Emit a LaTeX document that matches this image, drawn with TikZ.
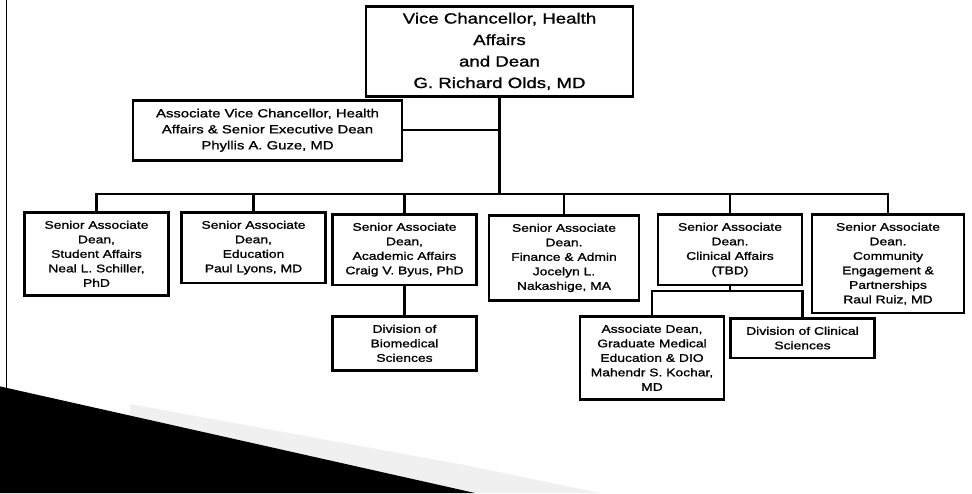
\documentclass[tikz,border=0pt]{standalone}
\usepackage{fontspec}
\setmainfont{Liberation Sans}[FakeStretch=1.26, FakeBold=1.2]
\usetikzlibrary{positioning}
\tikzstyle{every box} = []
\tikzstyle{box} = [rectangle, draw, black, line width=2.6pt, align=center,
                   inner xsep=4pt, inner ysep=8.5pt, anchor=north, every box]
\tikzset{
    chief/.style  = {box, font=\fontsize{14.8}{21.5}\selectfont, minimum width=267pt, inner ysep=6.5pt},
    deputy/.style = {box, font=\fontsize{11.8}{16}\selectfont, minimum width=269pt},
    dean/.style   = {box, font=\fontsize{11}{14.5}\selectfont, minimum width=144pt},
    link/.style   = {line width=2.2pt}
}

\begin{document}
\begin{tikzpicture}[x=1pt,y=-1pt]
    \useasboundingbox (0,0) rectangle (972,493);
    % slide edge and corner swoosh
    \draw[line width=1.5pt] (6.5,0) -- (6.5,392);
    \fill[gray!12] (130,404) -- (470,466) -- (600,493) -- (475,493) -- (130,415.6) -- cycle;
    \fill[black] (0,386.4) -- (475,493) -- (0,493) -- cycle;

    \node[chief]  (0) at (499.5,5)   {Vice Chancellor, Health\\Affairs\\and Dean\\G. Richard Olds, MD};
    \node[deputy] (1) at (267.5,99)  {Associate Vice Chancellor, Health\\Affairs \& Senior Executive Dean\\Phyllis A. Guze, MD};
    \node[dean]   (2) at (96.5,211)  {Senior Associate\\Dean,\\Student Affairs\\Neal L. Schiller,\\PhD};
    \node[dean]   (3) at (253.5,211) {Senior Associate\\Dean,\\Education\\Paul Lyons, MD};
    \node[dean]   (4) at (404.5,213) {Senior Associate\\Dean,\\Academic Affairs\\Craig V. Byus, PhD};
    \node[dean, minimum width=150pt] (5) at (564,214) {Senior Associate\\Dean.\\Finance \& Admin\\Jocelyn L.\\Nakashige, MA};
    \node[dean]   (6) at (730,213)   {Senior Associate\\Dean.\\Clinical Affairs\\(TBD)};
    \node[dean, minimum width=152pt] (7) at (888,213) {Senior Associate\\Dean.\\Community\\Engagement \&\\Partnerships\\Raul Ruiz, MD};
    \node[dean]   (8) at (404.5,315) {Division of\\Biomedical\\Sciences};
    \node[dean]   (9) at (652,315)   {Associate Dean,\\Graduate Medical\\Education \& DIO\\Mahendr S. Kochar,\\MD};
    \node[dean]  (10) at (802.5,317) {Division of Clinical\\Sciences};

    \coordinate (bus) at (499.5,194);
    \draw[link] (0.south) -- (bus);
    \draw[link] (1.east) -- (1.east -| 0.south);
    \foreach \n in {2,...,7}
        \draw[link] (bus) -| (\n.north);
    \draw[link] (4.south) -- (8.north);
    \draw[link] (6.south) -- ++(0,5) coordinate (split);
    \draw[link] (split) -| (9.north);
    \draw[link] (split) -| (10.north);
\end{tikzpicture}
\end{document}
